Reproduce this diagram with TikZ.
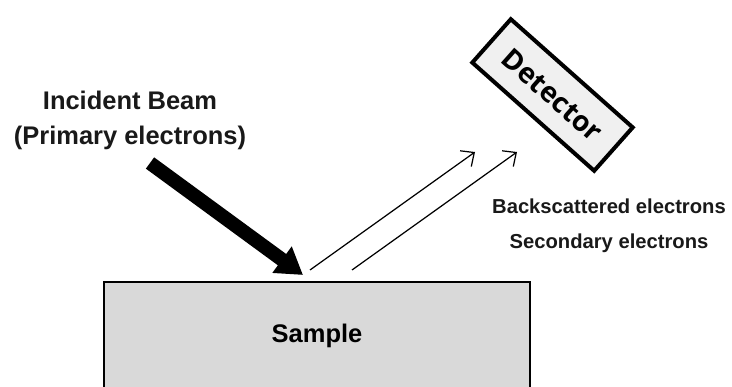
\documentclass[tikz,border=0pt]{standalone}
\usepackage{fontspec}
\setmainfont{Liberation Sans}
\newfontfamily\detfont{Open Sans}
\usetikzlibrary{arrows.meta,positioning}

\begin{document}
\begin{tikzpicture}[font=\bfseries,
    box/.style={draw, line width=#1, inner sep=0pt},
    lbl/.style={align=center, text=black!90},
    ray/.style={-{Straight Barb[length=6pt, width=11pt]}, line width=0.7pt},
    beam/.style={-{Triangle[length=0.52cm, width=0.62cm]}, line width=0.28cm}]

  %% Frame
  \path[use as bounding box, clip] (0,0) rectangle (14.64,7.74);

  %% Sample block (runs off the bottom)
  \node[box=0.05cm, fill=gray!30, minimum width=8.52cm, minimum height=2.16cm,
        font=\fontsize{14.5}{16}\selectfont\bfseries] (sample) at (6.34,1.02)
    {Sample};

  %% Detector, tilted
  \node[box=0.08cm, fill=gray!12, minimum width=3.26cm, minimum height=1.16cm,
        rotate=-41.6, font=\detfont\bfseries\fontsize{16}{16}\selectfont]
    (det) at (11.05,5.84) {Detector};

  %% Labels
  \node[lbl, font=\fontsize{14.5}{19.9}\selectfont\bfseries] (inc) at (2.6,5.34)
    {Incident Beam\\(Primary electrons)};
  \node[lbl, font=\fontsize{11.5}{19.9}\selectfont\bfseries] (emit) at (12.18,3.23)
    {Backscattered electrons\\Secondary electrons};

  %% Beam in, electrons out
  \coordinate (b0) at (3.0,4.48);
  \coordinate (b1) at (6.06,2.24);
  \draw[beam] (b0) -- (b1);

  \coordinate (r0) at (6.2,2.34);
  \coordinate (r1) at (9.5,4.7);
  \coordinate (s0) at (7.04,2.34);
  \coordinate (s1) at (10.34,4.7);
  \draw[ray] (r0) -- (r1);
  \draw[ray] (s0) -- (s1);
\end{tikzpicture}
\end{document}
